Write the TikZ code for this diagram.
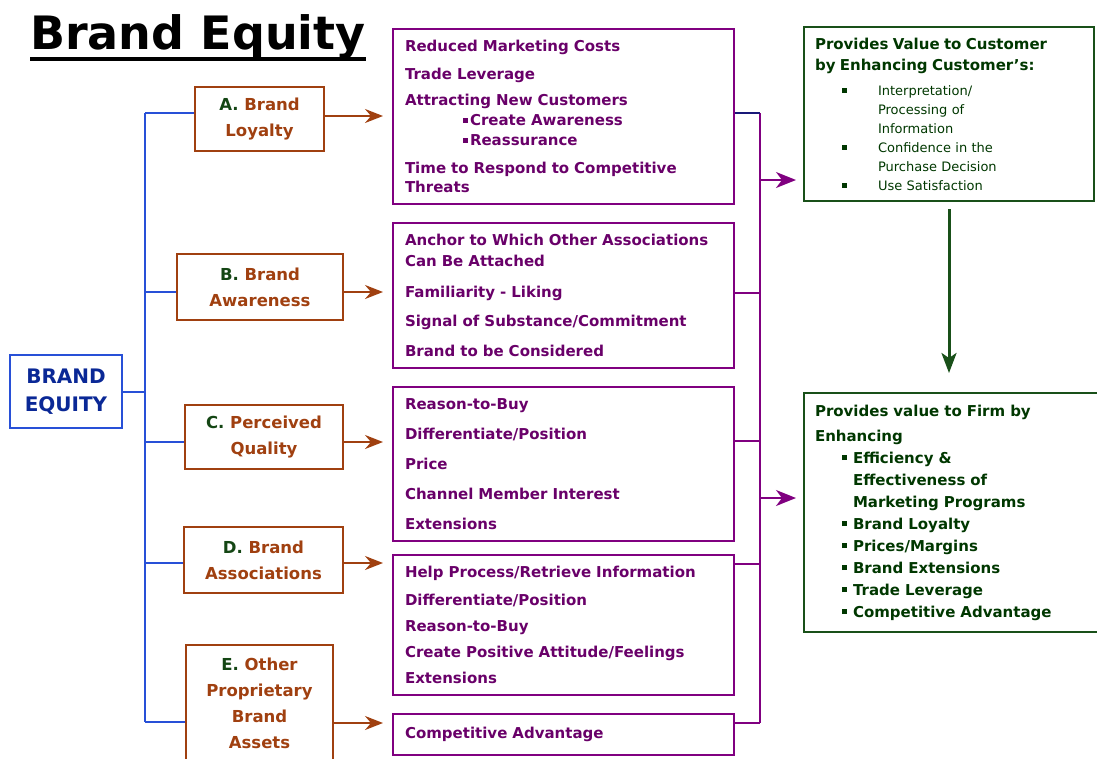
\documentclass[tikz,border=0pt]{standalone}
\usepackage{fontspec}
\setmainfont{DejaVu Sans}
\usetikzlibrary{arrows.meta}

\definecolor{brandblue}{RGB}{40,80,215}
\definecolor{eqblue}{RGB}{10,40,150}
\definecolor{catbrown}{RGB}{160,64,16}
\definecolor{letgreen}{RGB}{20,70,20}
\definecolor{itempurple}{RGB}{105,0,105}
\definecolor{linepurple}{RGB}{128,0,128}
\definecolor{valgreen}{RGB}{25,80,25}
\definecolor{txtgreen}{RGB}{0,55,0}
\definecolor{navyline}{RGB}{25,25,120}

\newcommand{\sqb}[1][3pt]{\rule[#1]{5pt}{5pt}}

\tikzset{
  eqbox/.style={draw=brandblue, line width=2pt, text=eqblue, font=\fontsize{20}{28}\selectfont\bfseries, align=center, minimum width=112pt, minimum height=73pt, inner sep=0pt},
  catbox/.style={draw=catbrown, line width=2pt, text=catbrown, font=\fontsize{16.5}{26}\selectfont\bfseries, align=center, inner sep=0pt},
  itembox/.style={draw=linepurple, line width=2pt, text=itempurple, font=\fontsize{15}{20}\selectfont\bfseries, align=left, text width=317pt, minimum width=341pt, inner xsep=12pt, inner ysep=0pt, anchor=north west},
  valuebox/.style={draw=valgreen, line width=2pt, text=txtgreen, align=left, inner xsep=11pt, inner ysep=0pt, anchor=north west},
  bluebus/.style={draw=brandblue, line width=2pt},
  brarrow/.style={draw=catbrown, fill=catbrown, line width=2pt, -{Stealth[length=18pt, width=14pt, inset=6pt]}},
  purline/.style={draw=linepurple, line width=2pt},
  purarrow/.style={purline, -{Stealth[length=20pt, width=16pt, inset=6pt]}},
  grarrow/.style={draw=valgreen, line width=3pt, -{Stealth[length=20pt, width=15pt, inset=5pt]}}
}

\begin{document}
\begin{tikzpicture}[x=1pt, y=-1pt]
    \useasboundingbox (0,0) rectangle (1097,758);

    % title
    \node[font=\fontsize{46}{50}\selectfont\bfseries, inner sep=0pt, anchor=base west] (title) at (30,49) {Brand Equity};
    \draw[line width=4pt] ([yshift=-10pt]title.base west) -- ([yshift=-10pt]title.base east);

    \node[eqbox] (beq) at (66,391.5) {BRAND\\EQUITY};

    % categories
    \node[catbox, minimum width=129pt, minimum height=64pt] (A) at (259.5,119) {{\color{letgreen}A.} Brand\\Loyalty};
    \node[catbox, minimum width=166pt, minimum height=66pt] (B) at (260,287) {{\color{letgreen}B.} Brand\\Awareness};
    \node[catbox, minimum width=158pt, minimum height=64pt] (C) at (264,437) {{\color{letgreen}C.} Perceived\\Quality};
    \node[catbox, minimum width=159pt, minimum height=66pt] (D) at (263.5,560) {{\color{letgreen}D.} Brand\\Associations};
    \node[catbox, minimum width=147pt, minimum height=117pt] (E) at (259.5,703.5) {{\color{letgreen}E.} Other\\Proprietary\\Brand\\Assets};

    \coordinate (jA) at (145,113);
    \coordinate (jB) at (145,292);
    \coordinate (jC) at (145,442);
    \coordinate (jD) at (145,563);
    \coordinate (jE) at (145,722);
    \draw[bluebus] (jA) -- (jE);
    \draw[bluebus] (beq.east) -- (beq.east -| jA);
    \draw[bluebus] (jA) -- (jA -| A.west);
    \draw[bluebus] (jB) -- (jB -| B.west);
    \draw[bluebus] (jC) -- (jC -| C.west);
    \draw[bluebus] (jD) -- (jD -| D.west);
    \draw[bluebus] (jE) -- (jE -| E.west);

    % benefit lists
    \node[itembox, minimum height=175pt] (P1) at (392,28) {Reduced Marketing Costs\\[8pt]
        Trade Leverage\\[6pt]
        Attracting New Customers\\
        \hspace*{58pt}\sqb\hspace{2pt}Create Awareness\\
        \hspace*{58pt}\sqb\hspace{2pt}Reassurance\\[8pt]
        Time to Respond to Competitive\\[-1pt]
        Threats};
    \node[itembox, minimum height=145pt] (P2) at (392,222) {Anchor to Which Other Associations\\[1pt]
        Can Be Attached\\[11pt]
        Familiarity - Liking\\[9pt]
        Signal of Substance/Commitment\\[10pt]
        Brand to be Considered};
    \node[itembox, minimum height=154pt] (P3) at (392,386) {Reason-to-Buy\\[10pt]
        Differentiate/Position\\[10pt]
        Price\\[10pt]
        Channel Member Interest\\[10pt]
        Extensions};
    \node[itembox, minimum height=140pt] (P4) at (392,554) {Help Process/Retrieve Information\\[8pt]
        Differentiate/Position\\[6pt]
        Reason-to-Buy\\[6pt]
        Create Positive Attitude/Feelings\\[6pt]
        Extensions};
    \node[itembox, minimum height=41pt] (P5) at (392,713) {Competitive Advantage};

    \coordinate (tA) at (383,116);
    \coordinate (tB) at (383,292);
    \coordinate (tC) at (383,442);
    \coordinate (tD) at (383,563);
    \coordinate (tE) at (383,723);
    \draw[brarrow] (tA -| A.east) -- (tA);
    \draw[brarrow] (tB -| B.east) -- (tB);
    \draw[brarrow] (tC -| C.east) -- (tC);
    \draw[brarrow] (tD -| D.east) -- (tD);
    \draw[brarrow] (tE -| E.east) -- (tE);

    % value boxes
    \node[valuebox, font=\fontsize{13}{19}\selectfont, text width=268pt, minimum width=290pt, minimum height=174pt] (G1) at (803,26) {{\fontsize{15}{21}\selectfont\bfseries Provides Value to Customer\\[2pt]
        by Enhancing Customer's:}\\[6pt]
        \hspace*{27pt}\makebox[36pt][l]{\sqb[2.5pt]}Interpretation/\\
        \hspace*{63pt}Processing of\\
        \hspace*{63pt}Information\\
        \hspace*{27pt}\makebox[36pt][l]{\sqb[2.5pt]}Confidence in the\\
        \hspace*{63pt}Purchase Decision\\
        \hspace*{27pt}\makebox[36pt][l]{\sqb[2.5pt]}Use Satisfaction};
    \node[valuebox, font=\fontsize{15}{22}\selectfont\bfseries, text width=275pt, minimum width=297pt, minimum height=239pt] (G2) at (803,392) {Provides value to Firm by\\[3pt]
        Enhancing\\
        \hspace*{27pt}\makebox[11pt][l]{\sqb}Efficiency \&\\
        \hspace*{38pt}Effectiveness of\\
        \hspace*{38pt}Marketing Programs\\
        \hspace*{27pt}\makebox[11pt][l]{\sqb}Brand Loyalty\\
        \hspace*{27pt}\makebox[11pt][l]{\sqb}Prices/Margins\\
        \hspace*{27pt}\makebox[11pt][l]{\sqb}Brand Extensions\\
        \hspace*{27pt}\makebox[11pt][l]{\sqb}Trade Leverage\\
        \hspace*{27pt}\makebox[11pt][l]{\sqb}Competitive Advantage};

    \coordinate (kA) at (760,113);
    \coordinate (kB) at (760,293);
    \coordinate (kC) at (760,441);
    \coordinate (kD) at (760,564);
    \coordinate (kE) at (760,723);
    \coordinate (kV) at (760,180);
    \coordinate (kF) at (760,498);
    \draw[purline] (kA) -- (kE);
    \draw[purline, draw=navyline] (kA -| P1.east) -- (kA);
    \draw[purline] (kB -| P2.east) -- (kB);
    \draw[purline] (kC -| P3.east) -- (kC);
    \draw[purline] (kD -| P4.east) -- (kD);
    \draw[purline] (kE -| P5.east) -- (kE);
    \draw[purarrow, shorten >=7pt] (kV) -- (kV -| G1.west);
    \draw[purarrow, shorten >=7pt] (kF) -- (kF -| G2.west);

    \draw[grarrow, shorten <=7pt, shorten >=19pt] (G1.south) -- (G1.south |- G2.north);
\end{tikzpicture}
\end{document}
